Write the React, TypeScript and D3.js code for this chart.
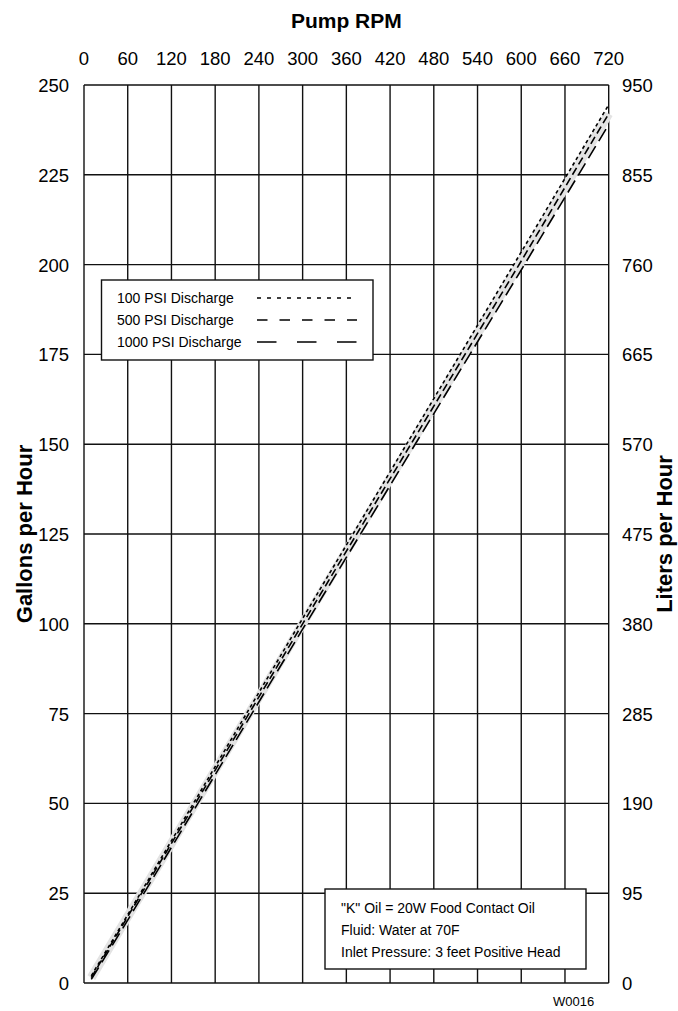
import React from 'react'
import * as d3 from 'd3'

// chart values
const rpmTicks = [0, 60, 120, 180, 240, 300, 360, 420, 480, 540, 600, 660, 720]
const gphTicks = [0, 25, 50, 75, 100, 125, 150, 175, 200, 225, 250]
const lphTicks = [0, 95, 190, 285, 380, 475, 570, 665, 760, 855, 950]

const rpm = [10, 60, 300, 600, 720]
const psi100 = [2, 19, 101.5, 203.5, 244.5]
const psi500 = [1.5, 18.5, 100, 201, 242]
const psi1000 = [1, 17.5, 98.5, 198.5, 239]

const seriesNames = ['100 PSI Discharge', '500 PSI Discharge', '1000 PSI Discharge']
const noteLines = ['"K" Oil = 20W Food Contact Oil', 'Fluid: Water at 70F', 'Inlet Pressure: 3 feet Positive Head']

const W = 678
const H = 1011
const margin = { left: 84, right: 69.3, top: 85, bottom: 28 }
const font = 'Liberation Sans, Arial, Helvetica, sans-serif'

export default function App() {
  const x = d3.scaleLinear().domain([0, 720]).range([margin.left, W - margin.right])
  const y = d3.scaleLinear().domain([0, 250]).range([H - margin.bottom, margin.top])
  const yL = d3.scaleLinear().domain([0, 950]).range([H - margin.bottom, margin.top])

  const line = d3.line<[number, number]>()
    .x(d => x(d[0]))
    .y(d => y(d[1]))

  const series = [
    { values: psi100, dash: '3.5,3', legendDash: '4,6' },
    { values: psi500, dash: '8,4', legendDash: '10.5,12' },
    { values: psi1000, dash: '14,6', legendDash: '19.5,20.5' },
  ]

  const pts = (vals: number[]) => rpm.map((r, i) => [r, vals[i]] as [number, number])

  const x0 = x(0), x1 = x(720), y0 = y(0), y1 = y(250)

  return (
    <svg width={W} height={H} style={{ position: 'absolute', left: 0, top: 0 }} fontFamily={font}>
      <rect x={0} y={0} width={W} height={H} fill="#fff" />

      {/* grid */}
      {rpmTicks.map(t => (
        <line key={'v' + t} x1={x(t)} x2={x(t)} y1={y1} y2={y0} stroke="#111" strokeWidth={1.4} />
      ))}
      {gphTicks.map(t => (
        <line key={'h' + t} x1={x0} x2={x1} y1={y(t)} y2={y(t)} stroke="#111" strokeWidth={1.4} />
      ))}

      {/* gray band behind curves */}
      <path d={line(pts(psi500)) || ''} fill="none" stroke="#e3e3e3" strokeWidth={9} />

      {series.map((s, i) => (
        <path key={i} d={line(pts(s.values)) || ''} fill="none" stroke="#000"
          strokeWidth={1.6} strokeDasharray={s.dash} />
      ))}

      {/* axis labels */}
      {rpmTicks.map(t => (
        <text key={'tx' + t} x={x(t)} y={65} fontSize={18.5} textAnchor="middle">{t}</text>
      ))}
      {gphTicks.map(t => (
        <text key={'ly' + t} x={69} y={y(t) + 7} fontSize={18.5} textAnchor="end">{t}</text>
      ))}
      {lphTicks.map(t => (
        <text key={'ry' + t} x={622} y={yL(t) + 7} fontSize={18.5} textAnchor="start">{t}</text>
      ))}

      <text x={(x0 + x1) / 2} y={28} fontSize={21} fontWeight="bold" textAnchor="middle">Pump RPM</text>
      <text transform={`translate(32,${(y0 + y1) / 2}) rotate(-90)`} fontSize={22} fontWeight="bold" textAnchor="middle">Gallons per Hour</text>
      <text transform={`translate(672,${(y0 + y1) / 2}) rotate(-90)`} fontSize={22} fontWeight="bold" textAnchor="middle">Liters per Hour</text>

      {/* legend */}
      <rect x={101.5} y={280} width={271.5} height={80} fill="#fff" stroke="#111" strokeWidth={1.4} />
      {seriesNames.map((n, i) => (
        <g key={n}>
          <text x={117} y={303 + i * 22} fontSize={14}>{n}</text>
          <line x1={257} x2={357} y1={298 + i * 22} y2={298 + i * 22} stroke="#000" strokeWidth={1.4}
            strokeDasharray={series[i].legendDash} />
        </g>
      ))}

      {/* note box */}
      <rect x={325} y={889} width={261} height={80} fill="#fff" stroke="#111" strokeWidth={1.4} />
      {noteLines.map((n, i) => (
        <text key={n} x={341} y={913 + i * 22} fontSize={14}>{n}</text>
      ))}

      <text x={553} y={1006} fontSize={13}>W0016</text>
    </svg>
  )
}
